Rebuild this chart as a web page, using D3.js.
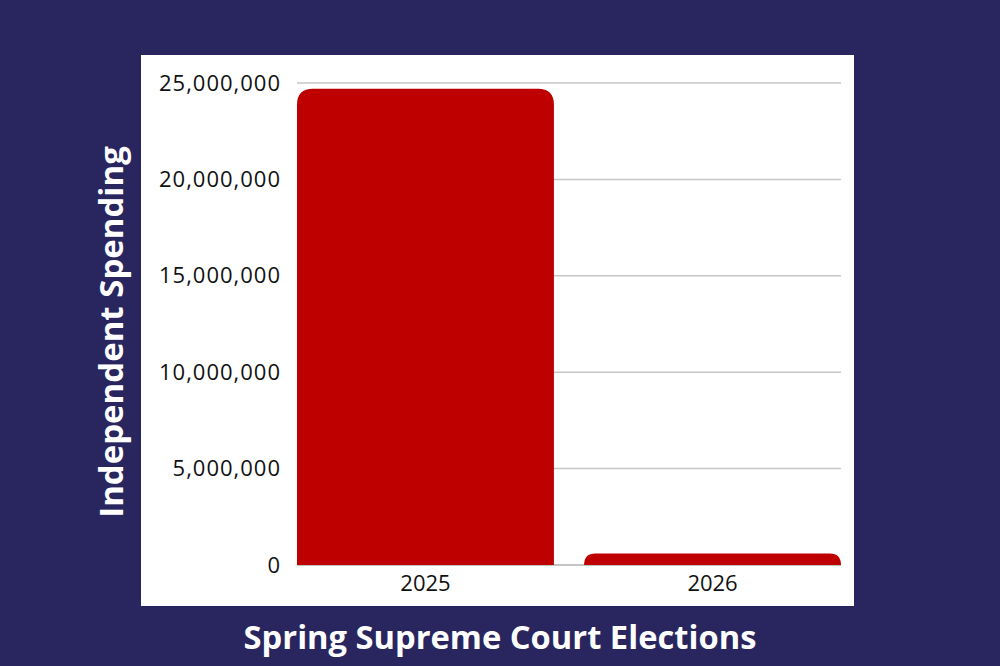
<!DOCTYPE html>
<html>
<head>
<meta charset="utf-8">
<script src="https://cdn.jsdelivr.net/npm/d3@7"></script>
<style>
  html, body { margin: 0; padding: 0; background: #29255f; }
  svg { display: block; }
</style>
</head>
<body>
<div id="chart"></div>
<script>
// data
var years = ["2025", "2026"];
var spending = [24700000, 590000];
var yTicks = [0, 5000000, 10000000, 15000000, 20000000, 25000000];

var width = 1000;
var height = 666;
var navy = "#29255f";
var red = "#bf0000";

var svg = d3.select("#chart").append("svg")
  .attr("width", width)
  .attr("height", height);

svg.append("rect")
  .attr("width", width)
  .attr("height", height)
  .attr("fill", navy);

// white panel
svg.append("rect")
  .attr("x", 141)
  .attr("y", 55)
  .attr("width", 713)
  .attr("height", 551)
  .attr("fill", "#ffffff");

var x = d3.scaleBand()
  .domain(years)
  .range([297, 841])
  .paddingInner(0.105)
  .paddingOuter(0);

var y = d3.scaleLinear()
  .domain([0, 25000000])
  .range([565, 83]);

// gridlines
svg.append("g")
  .selectAll("line")
  .data(yTicks.slice(1))
  .enter()
  .append("line")
  .attr("x1", 297)
  .attr("x2", 841)
  .attr("y1", d => y(d))
  .attr("y2", d => y(d))
  .style("stroke", "#c6c6c6")
  .style("stroke-width", 1.5);

// baseline
svg.append("line")
  .attr("x1", 297)
  .attr("x2", 841)
  .attr("y1", y(0))
  .attr("y2", y(0))
  .style("stroke", "#8a8a8a")
  .style("stroke-width", 1);

// bars with rounded top corners
function topRounded(x0, y0, w, h, r) {
  r = Math.min(r, h, w / 2);
  return "M" + x0 + "," + (y0 + h) +
    "V" + (y0 + r) +
    "Q" + x0 + "," + y0 + " " + (x0 + r) + "," + y0 +
    "H" + (x0 + w - r) +
    "Q" + (x0 + w) + "," + y0 + " " + (x0 + w) + "," + (y0 + r) +
    "V" + (y0 + h) + "Z";
}

svg.append("g")
  .selectAll("path")
  .data(years)
  .enter()
  .append("path")
  .attr("d", (d, i) => topRounded(x(d), y(spending[i]), x.bandwidth(), y(0) - y(spending[i]), 16))
  .style("fill", red);

// y axis
var yAxis = d3.axisLeft(y)
  .tickValues(yTicks)
  .tickFormat(d3.format(","))
  .tickSize(0)
  .tickPadding(0);

var gy = svg.append("g")
  .attr("transform", "translate(281,0)")
  .call(yAxis);
gy.select(".domain").remove();
gy.selectAll("text")
  .style("font-family", "'Open Sans', sans-serif")
  .style("font-size", "22px")
  .style("letter-spacing", "1px")
  .style("fill", "#111111");

// x axis
var xAxis = d3.axisBottom(x)
  .tickSize(0)
  .tickPadding(0);

var gx = svg.append("g")
  .attr("transform", "translate(0,575)")
  .call(xAxis);
gx.select(".domain").remove();
gx.selectAll("text")
  .style("font-family", "'Open Sans', sans-serif")
  .style("font-size", "22px")
  .style("fill", "#111111");

// axis titles
svg.append("text")
  .attr("transform", "translate(123,332) rotate(-90)")
  .attr("text-anchor", "middle")
  .style("font-family", "'Open Sans', sans-serif")
  .style("font-weight", "700")
  .style("font-size", "33px")
  .style("fill", "#ffffff")
  .text("Independent Spending");

svg.append("text")
  .attr("x", 500)
  .attr("y", 649)
  .attr("text-anchor", "middle")
  .style("font-family", "'Open Sans', sans-serif")
  .style("font-weight", "700")
  .style("font-size", "32.7px")
  .style("fill", "#ffffff")
  .text("Spring Supreme Court Elections");
</script>
</body>
</html>
